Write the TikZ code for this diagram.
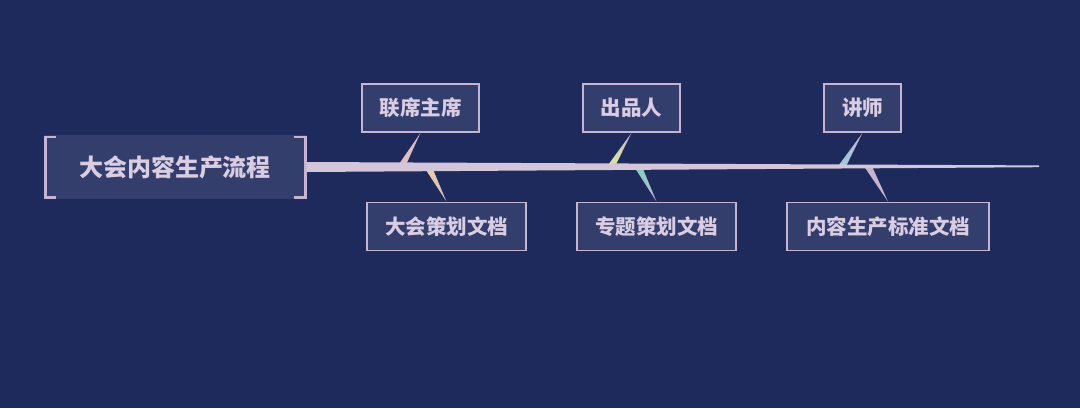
\documentclass[tikz,border=0pt]{standalone}
\usepackage{fontspec}
\newfontfamily\cjk{Noto Sans CJK SC}
\definecolor{bgc}{HTML}{1E2A5B}
\definecolor{boxfill}{HTML}{343E6D}
\definecolor{boxline}{HTML}{C5B5D3}
\definecolor{txt}{HTML}{D8CDE2}
\definecolor{spinec}{HTML}{D3C6DA}
\definecolor{wA}{HTML}{EBC0B8}
\definecolor{wB}{HTML}{F2D29A}
\definecolor{wC}{HTML}{DDEA9A}
\definecolor{wD}{HTML}{7ED2C0}
\definecolor{wE}{HTML}{9CC9DC}
\definecolor{wF}{HTML}{C2B2CC}
\pgfdeclarelayer{bglayer}
\pgfdeclarelayer{back}
\pgfsetlayers{bglayer,back,main}
\tikzset{
  leaf/.style={draw=boxline, line width=1.8pt, fill=boxfill, text=txt,
    font=\cjk\bfseries\fontsize{20.5}{23}\selectfont, minimum height=48pt,
    inner xsep=14pt, inner ysep=0pt},
  root/.style={fill=boxfill, text=txt, font=\cjk\bfseries\fontsize{24}{27}\selectfont,
    minimum width=263pt, minimum height=64pt, inner sep=0pt},
  bracket/.style={draw=boxline, line width=2.6pt},
}
\begin{document}
\begin{tikzpicture}[x=1pt,y=-1pt]
\begin{pgfonlayer}{bglayer}
\fill[bgc] (0,0) rectangle (1080,408);
\end{pgfonlayer}
\node[root] (c) at (175,167) {大会内容生产流程};
\draw[bracket] ([shift={(13,2)}]c.north west) -- ([shift={(2,2)}]c.north west) -- ([shift={(2,-2)}]c.south west) -- ([shift={(13,-2)}]c.south west);
\draw[bracket] ([shift={(-13,2)}]c.north east) -- ([shift={(-1,2)}]c.north east) -- ([shift={(-1,-2)}]c.south east) -- ([shift={(-13,-2)}]c.south east);
% spine
\coordinate (s0) at (c.east);
\coordinate (s1) at (1039,166.3);
\fill[spinec] ([yshift=-5]s0) -- ([yshift=-0.9]s1) -- ([yshift=0.9]s1) -- ([yshift=5]s0) -- cycle;
% nodes
\node[leaf, minimum width=117pt] (a1) at (420.5,108) {联席主席};
\node[leaf, minimum width=97pt] (a2) at (631.5,108) {出品人};
\node[leaf, minimum width=77pt] (a3) at (862.5,108) {讲师};
\node[leaf, minimum width=159pt] (b1) at (446.5,226.5) {大会策划文档};
\node[leaf, minimum width=159pt] (b2) at (656.5,226.5) {专题策划文档};
\node[leaf, minimum width=202pt] (b3) at (888,226.5) {内容生产标准文档};
% branch anchors on spine
\coordinate (ja1) at (401,167);
\coordinate (jb1) at (428,167);
\coordinate (ja2) at (611,166.5);
\coordinate (jb2) at (638,166.5);
\coordinate (ja3) at (842,166.3);
\coordinate (jb3) at (868,166.3);
\begin{pgfonlayer}{back}
\shade[top color=boxline, bottom color=wA] (a1.south) -- ([xshift=-4]ja1) -- ([xshift=4]ja1) -- cycle;
\shade[top color=wB, bottom color=boxline] ([xshift=-4]jb1) -- ([xshift=4]jb1) -- (b1.north) -- cycle;
\shade[top color=boxline, bottom color=wC] (a2.south) -- ([xshift=-4]ja2) -- ([xshift=4]ja2) -- cycle;
\shade[top color=wD, bottom color=boxline] ([xshift=-4]jb2) -- ([xshift=4]jb2) -- (b2.north) -- cycle;
\shade[top color=boxline, bottom color=wE] (a3.south) -- ([xshift=-4]ja3) -- ([xshift=4]ja3) -- cycle;
\shade[top color=wF, bottom color=boxline] ([xshift=-4]jb3) -- ([xshift=4]jb3) -- (b3.north) -- cycle;
\end{pgfonlayer}
\end{tikzpicture}
\end{document}
